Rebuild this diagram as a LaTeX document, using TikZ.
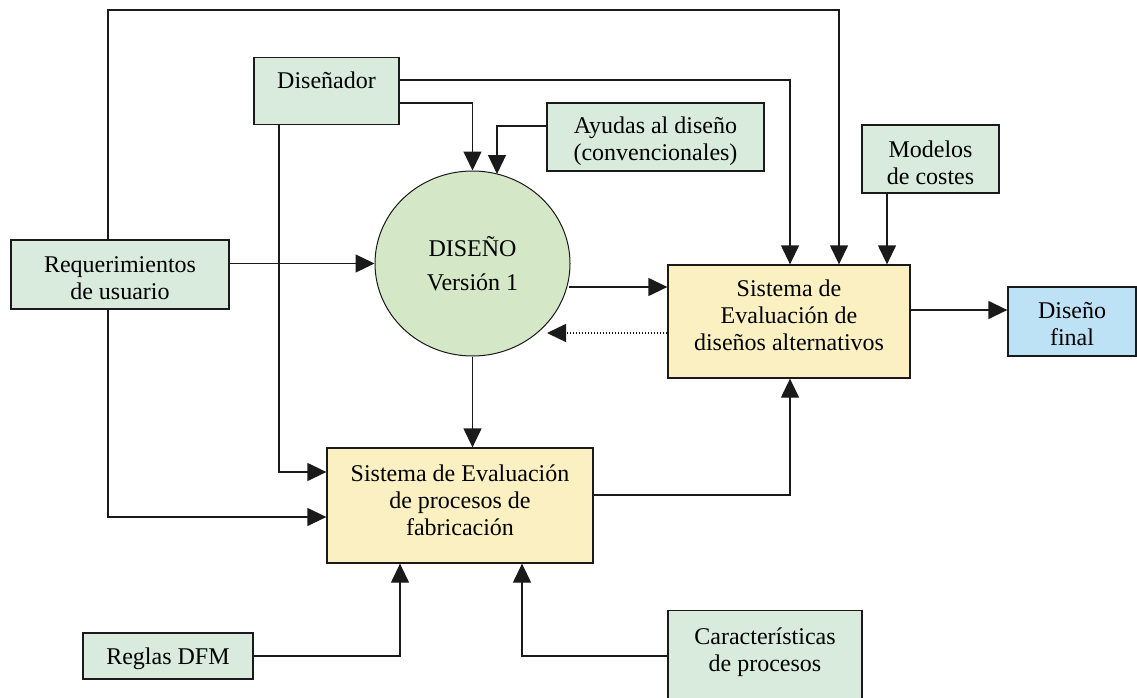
\documentclass[tikz,border=0pt]{standalone}
\usepackage{fontspec}
\setmainfont{Liberation Serif}
\usetikzlibrary{arrows.meta,shapes.geometric,calc}
\definecolor{boxgreen}{HTML}{D8EBDC}
\definecolor{boxyellow}{HTML}{FBF0C2}
\definecolor{circgreen}{HTML}{D4E8C8}
\definecolor{boxblue}{HTML}{BEE2F5}
\definecolor{linec}{HTML}{1A1A1A}
\begin{document}
\begin{tikzpicture}[x=1pt,y=-1pt,
  every node/.style={font=\fontsize{24}{27}\selectfont, text=black},
  every label/.style={align=center, inner sep=0pt},
  box/.style={draw=linec, line width=1.3pt, inner sep=0pt, align=center, rectangle},
  gbox/.style={box, fill=boxgreen},
  ybox/.style={box, fill=boxyellow},
  conn/.style={draw=linec, line width=1.3pt},
  arr/.style={conn, -{Triangle[width=18pt,length=19pt]}},
  dotarr/.style={arr, line width=1.2pt, dash pattern=on 1.5pt off 1.5pt},
]
\useasboundingbox (0,0) rectangle (1137,698);

% nodes
\node[gbox, minimum width=218pt, minimum height=69pt,
  label={[yshift=-4pt]center:Requerimientos\\de usuario}] (req) at (120,274.5) {};
\node[gbox, minimum width=145pt, text height=31pt, text depth=36pt, anchor=north] (dis) at (326.5,57) {Diseñador};
\node[gbox, minimum width=217pt, minimum height=68pt,
  label={[yshift=-4pt]center:Ayudas al diseño\\(convencionales)}] (ayu) at (655.5,137) {};
\node[gbox, minimum width=137pt, minimum height=68pt,
  label={[yshift=-4pt]center:Modelos\\de costes}] (mod) at (930.5,159) {};
\node[ellipse, draw=linec, line width=1pt, fill=circgreen, minimum width=195pt, minimum height=185pt, inner sep=0pt,
  label={[yshift=0pt]center:DISEÑO\\[7pt]Versión 1}] (circ) at (472.5,263.5) {};
\node[ybox, minimum width=242pt, minimum height=113pt,
  label={[yshift=6pt]center:Sistema de\\Evaluación de\\diseños alternativos}] (alt) at (789,321.5) {};
\node[box, fill=boxblue, minimum width=128pt, minimum height=69pt,
  label={[yshift=-3pt]center:Diseño\\final}] (fin) at (1072,321.5) {};
\node[ybox, minimum width=266pt, minimum height=115pt,
  label={[yshift=5pt]center:Sistema de Evaluación\\de procesos de\\fabricación}] (fab) at (460,505.5) {};
\node[gbox, minimum width=170pt, minimum height=46pt,
  label={[yshift=-3pt]center:Reglas DFM}] (reg) at (168,656) {};
\node[gbox, minimum width=194pt, minimum height=100pt, anchor=north,
  label={[anchor=north, yshift=-18pt]north:Características\\de procesos}] (car) at (765,610) {};

% connectors
\draw[arr] ($(req.north)+(-12,0)$) |- (839,10) -- ($(alt.north)+(50,0)$);
\draw[arr] (dis.east |- 0,80) -| ($(alt.north)+(1,0)$);
\draw[arr] (dis.east |- 0,103) -| (circ.north);
\draw[arr] (ayu.west |- 0,126) -| ($(circ.center)+(24.5,-89.5)$);
\draw[arr] (req.east |- circ.west) -- (circ.west);
\draw[arr] ($(dis.south)+(-47.5,0)$) |- ($(fab.west)+(0,-33.5)$);
\draw[arr] ($(req.south)+(-12,0)$) |- ($(fab.west)+(0,11.5)$);
\draw[arr] (circ.south) -- (circ.south |- fab.north);
\draw[arr] ($(circ.center)+(96,23.5)$) -- (alt.west |- 0,287);
\draw[dotarr] (alt.west |- 0,333) -- ($(circ.center)+(74.5,69.5)$);
\draw[arr] ($(mod.south)+(-43.5,0)$) -- ($(alt.north)+(98,0)$);
\draw[arr] (alt.east |- 0,310) -- (fin.west |- 0,310);
\draw[arr] (fab.east |- 0,495) -| ($(alt.south)+(1,0)$);
\draw[arr] (reg.east) -| ($(fab.south)+(-60,0)$);
\draw[arr] (car.west |- 0,656) -| ($(fab.south)+(62,0)$);
\end{tikzpicture}
\end{document}
